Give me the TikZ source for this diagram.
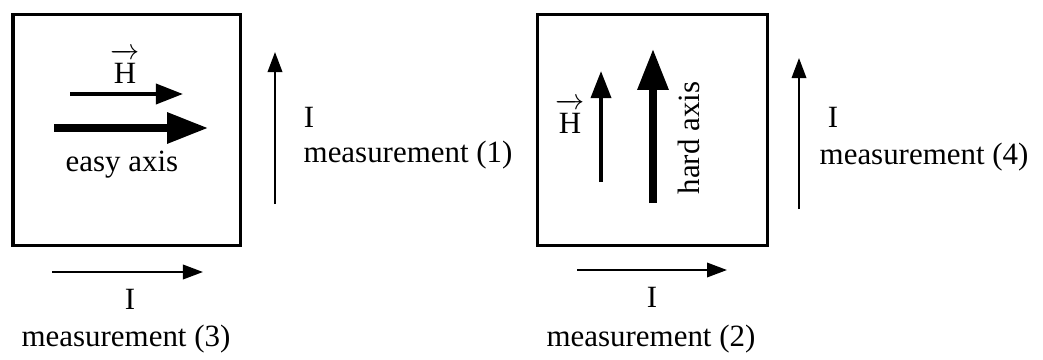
\documentclass[tikz,border=0pt]{standalone}
\usepackage{fontspec}
\setmainfont{Liberation Serif}
\usetikzlibrary{arrows.meta,positioning}

\begin{document}
\begin{tikzpicture}[x=0.025cm, y=-0.025cm,
        every node/.style={font=\fontsize{22}{25}\selectfont, inner sep=1pt},
        film/.style={draw, line width=0.075cm},
        thin/.style={-{Triangle[length=0.5cm, width=0.36cm]}, line width=0.055cm},
        field/.style={-{Triangle[length=0.68cm, width=0.5cm]}, line width=0.1cm},
        axis/.style={-{Triangle[length=1.02cm, width=0.74cm]}, line width=0.18cm}]
    \useasboundingbox (0,0) rectangle (1043,360);

    % left sample: easy axis
    \draw[film] (13,15) rectangle (240,245);
    \coordinate (H1a) at (70,94);
    \coordinate (H1b) at (183,94);
    \coordinate (E1a) at (54,128);
    \coordinate (E1b) at (208,128);
    \draw[field] (H1a) -- (H1b);
    \draw[axis] (E1a) -- (E1b);
    \node (H1) at (125,66) {$\overrightarrow{\hbox{H}\rule{0pt}{0.84em}}$};
    \node (easy) at (122,165) {easy axis};

    \coordinate (I1a) at (275,204);
    \coordinate (I1b) at (275,52);
    \draw[thin] (I1a) -- (I1b);
    \node (I1) at (309,117) {I};
    \node (m1) [anchor=west] at (302,155) {measurement (1)};

    \coordinate (I3a) at (52,272);
    \coordinate (I3b) at (203,272);
    \draw[thin] (I3a) -- (I3b);
    \node (I3) at (130,299) {I};
    \node (m3) at (126,339) {measurement (3)};

    % right sample: hard axis
    \draw[film] (537,15) rectangle (767,245);
    \coordinate (H2a) at (601,182);
    \coordinate (H2b) at (601,71);
    \coordinate (E2a) at (653,203);
    \coordinate (E2b) at (653,49);
    \draw[field] (H2a) -- (H2b);
    \draw[axis] (E2a) -- (E2b);
    \node (H2) at (570,116) {$\overrightarrow{\hbox{H}\rule{0pt}{0.84em}}$};
    \node (hard) [rotate=90] at (689,138) {hard axis};

    \coordinate (I4a) at (799,209);
    \coordinate (I4b) at (799,58);
    \draw[thin] (I4a) -- (I4b);
    \node (I4) at (833,117) {I};
    \node (m4) [anchor=west] at (818,157) {measurement (4)};

    \coordinate (I2a) at (577,270);
    \coordinate (I2b) at (727,270);
    \draw[thin] (I2a) -- (I2b);
    \node (I2) at (652,297) {I};
    \node (m2) at (651,339) {measurement (2)};
\end{tikzpicture}
\end{document}
